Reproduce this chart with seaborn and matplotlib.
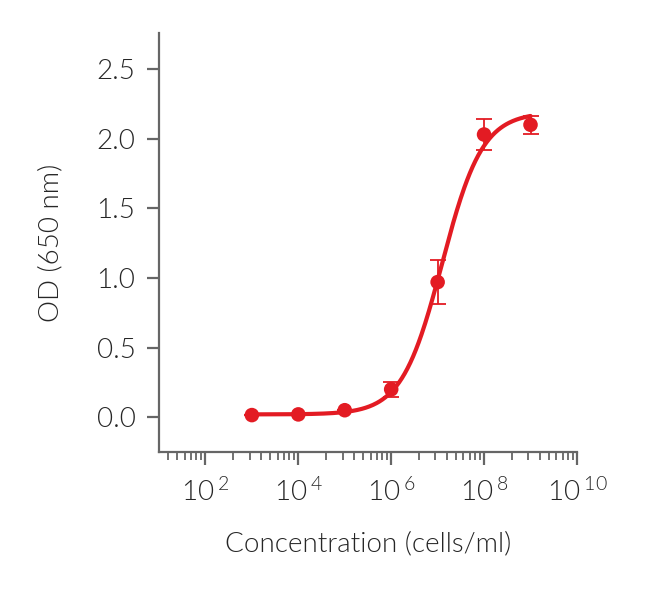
import numpy as np
import pandas as pd
import seaborn as sns
import matplotlib.pyplot as plt
from matplotlib.ticker import FixedLocator, FuncFormatter

# measured points
conc = [1e3, 1e4, 1e5, 1e6, 1e7, 1e8, 1e9]
od = [0.015, 0.02, 0.05, 0.20, 0.97, 2.03, 2.10]
od_err = [0.0, 0.0, 0.0, 0.055, 0.16, 0.11, 0.065]

# 4PL fit parameters
fit_bottom = 0.02
fit_top = 2.19
fit_ec50 = 1.25e7
fit_hill = 1.0

x_major = [1e2, 1e4, 1e6, 1e8, 1e10]
y_ticks = [0.0, 0.5, 1.0, 1.5, 2.0, 2.5]

red = '#E31B23'
grey = '#666666'
text_col = '#262626'

sns.set_style('ticks')
plt.rcParams['font.family'] = ['Lato', 'DejaVu Sans']
plt.rcParams['font.weight'] = 300
plt.rcParams['axes.labelweight'] = 300
plt.rcParams['mathtext.fontset'] = 'custom'
plt.rcParams['mathtext.rm'] = 'Lato:weight=300'
plt.rcParams['mathtext.it'] = 'Lato:weight=300'
plt.rcParams['mathtext.default'] = 'regular'

df = pd.DataFrame({'conc': conc, 'od': od, 'err': od_err})

xfit = np.logspace(np.log10(conc[0]), np.log10(conc[-1]), 300)
yfit = fit_bottom + (fit_top - fit_bottom) / (1 + (fit_ec50 / xfit) ** fit_hill)
fit = pd.DataFrame({'conc': xfit, 'od': yfit})

fig = plt.figure(figsize=(6.5, 5.92), dpi=100)
ax = fig.add_axes([0.2446, 0.2365, 0.643, 0.708])

ax.errorbar(df['conc'], df['od'], yerr=df['err'], fmt='none', ecolor=red,
            elinewidth=1.3, capsize=6, capthick=1.3, zorder=2)
sns.lineplot(data=fit, x='conc', y='od', ax=ax, color=red, linewidth=3, zorder=3)
sns.scatterplot(data=df, x='conc', y='od', ax=ax, color=red, s=110,
                edgecolor='none', zorder=4)

ax.set_xscale('log')
ax.set_xlim(1e1, 1e10)
ax.set_ylim(-0.25, 2.76)
ax.xaxis.set_major_locator(FixedLocator(x_major))
ax.xaxis.set_major_formatter(FuncFormatter(
    lambda v, pos: r'$10^{\;%d}$' % round(np.log10(v))))
minors = [k ** 2 * 10.0 ** (2 * n) for n in range(5) for k in range(2, 10)]
ax.xaxis.set_minor_locator(FixedLocator([m for m in minors if 1e1 <= m <= 1e10]))
ax.set_yticks(y_ticks)
ax.set_yticklabels(['%.1f' % t for t in y_ticks])

sns.despine(ax=ax)
for side in ['left', 'bottom']:
    ax.spines[side].set_color(grey)
    ax.spines[side].set_linewidth(1.6)

ax.tick_params(axis='both', which='major', length=9, width=1.6, color=grey,
               labelsize=20, labelcolor=text_col)
ax.tick_params(axis='x', which='minor', length=5.5, width=1.3, color=grey)
ax.tick_params(axis='x', which='major', pad=10)
ax.tick_params(axis='y', which='major', pad=8)
for lab in ax.get_xticklabels() + ax.get_yticklabels():
    lab.set_fontweight(300)

ax.set_xlabel('Concentration (cells/ml)', fontsize=20, color=text_col,
              labelpad=18, fontweight=300)
ax.set_ylabel('OD (650 nm)', fontsize=20, color=text_col,
              labelpad=24, fontweight=300)

fig.savefig('out.png', dpi=100)
